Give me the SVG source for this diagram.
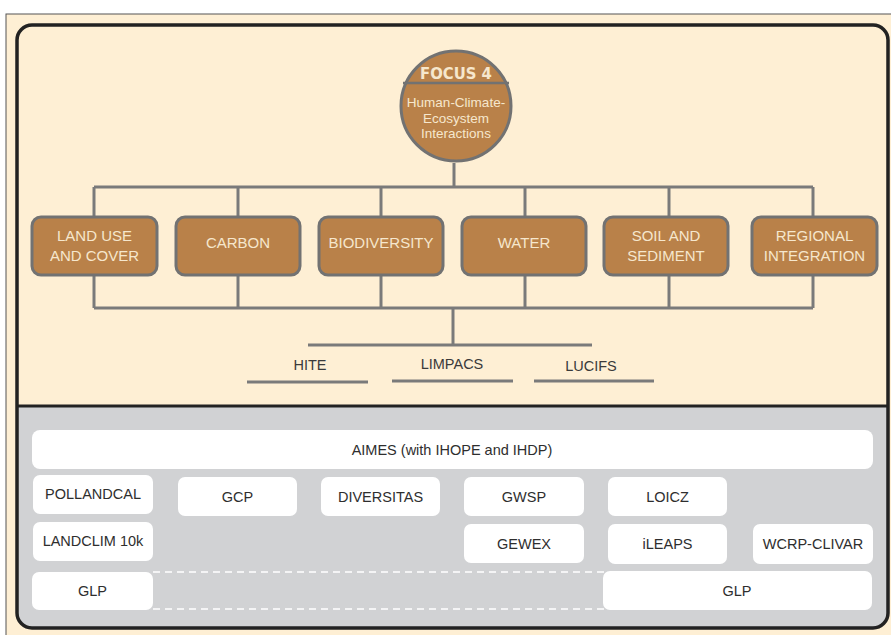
<svg xmlns="http://www.w3.org/2000/svg" width="891" height="635" viewBox="0 0 891 635">
<style>
.box{fill:#B98149;stroke:#727272;stroke-width:3}
.bt{font-family:"Liberation Sans",Arial,sans-serif;font-size:15px;fill:#F6E7CD;text-anchor:middle}
.wb{fill:#FFFFFF}
.wt{font-family:"Liberation Sans",Arial,sans-serif;font-size:14.5px;fill:#2E2E2E;text-anchor:middle}
.ln{stroke:#7A7A7A;stroke-width:3;fill:none}
.lt{font-family:"Liberation Sans",Arial,sans-serif;font-size:14.5px;fill:#3A3A3A;text-anchor:middle}
</style>
<rect x="0" y="0" width="891" height="635" fill="#FFFFFF"/>
<rect x="6" y="14" width="890" height="630" fill="#FEEFD4" stroke="#555" stroke-width="1"/>
<path d="M17,406 H888 V613 Q888,628 873,628 H32 Q17,628 17,613 Z" fill="#D1D2D4"/>
<rect x="17" y="25" width="871" height="603" rx="15" fill="none" stroke="#222" stroke-width="3.5"/>
<line x1="17" y1="406" x2="888" y2="406" stroke="#222" stroke-width="3"/>
<g id="connectors">
<line class="ln" x1="454" y1="163" x2="454" y2="187"/>
<line class="ln" x1="94" y1="187" x2="813" y2="187"/>
<line class="ln" x1="94" y1="187" x2="94" y2="217"/>
<line class="ln" x1="238" y1="187" x2="238" y2="217"/>
<line class="ln" x1="381" y1="187" x2="381" y2="217"/>
<line class="ln" x1="525" y1="187" x2="525" y2="217"/>
<line class="ln" x1="669" y1="187" x2="669" y2="217"/>
<line class="ln" x1="813" y1="187" x2="813" y2="217"/>
<line class="ln" x1="94" y1="275" x2="94" y2="308"/>
<line class="ln" x1="238" y1="275" x2="238" y2="308"/>
<line class="ln" x1="381" y1="275" x2="381" y2="308"/>
<line class="ln" x1="525" y1="275" x2="525" y2="308"/>
<line class="ln" x1="669" y1="275" x2="669" y2="308"/>
<line class="ln" x1="813" y1="275" x2="813" y2="308"/>
<line class="ln" x1="94" y1="308" x2="813" y2="308"/>
<line class="ln" x1="453" y1="308" x2="453" y2="345"/>
<line class="ln" x1="308" y1="345" x2="592" y2="345"/>
<line class="ln" x1="247" y1="382" x2="368" y2="382"/>
<line class="ln" x1="392" y1="381" x2="513" y2="381"/>
<line class="ln" x1="534" y1="381" x2="654" y2="381"/>
</g>
<g id="focus4">
<circle cx="456" cy="106" r="55" fill="#B98149" stroke="#727272" stroke-width="3"/>
<line x1="403" y1="83" x2="509" y2="83" stroke="#727272" stroke-width="2.5"/>
<text x="456" y="79" font-family="'DejaVu Sans Condensed','Liberation Sans Narrow',sans-serif" font-weight="bold" font-size="16.5" fill="#F6E7CD" text-anchor="middle">FOCUS 4</text>
<text font-family="'Liberation Sans',Arial,sans-serif" font-size="13.5" fill="#F6E7CD" text-anchor="middle"><tspan x="456" y="107">Human-Climate-</tspan><tspan x="456" y="123">Ecosystem</tspan><tspan x="456" y="138">Interactions</tspan></text>
</g>
<g id="landuse"><rect class="box" x="32" y="217" width="125" height="58" rx="9"/><text class="bt"><tspan x="94.5" y="241">LAND USE</tspan><tspan x="94.5" y="261">AND COVER</tspan></text></g>
<g id="carbon"><rect class="box" x="176" y="217" width="124" height="58" rx="9"/><text class="bt" x="238" y="248">CARBON</text></g>
<g id="biodiversity"><rect class="box" x="319" y="217" width="124" height="58" rx="9"/><text class="bt" x="381" y="248">BIODIVERSITY</text></g>
<g id="water"><rect class="box" x="462" y="217" width="124" height="58" rx="9"/><text class="bt" x="524" y="248">WATER</text></g>
<g id="soil"><rect class="box" x="604" y="217" width="124" height="58" rx="9"/><text class="bt"><tspan x="666" y="241">SOIL AND</tspan><tspan x="666" y="261">SEDIMENT</tspan></text></g>
<g id="regional"><rect class="box" x="752" y="217" width="125" height="58" rx="9"/><text class="bt"><tspan x="814.5" y="241">REGIONAL</tspan><tspan x="814.5" y="261">INTEGRATION</tspan></text></g>
<g id="hite"><text class="lt" x="310" y="370">HITE</text></g>
<g id="limpacs"><text class="lt" x="452" y="369">LIMPACS</text></g>
<g id="lucifs"><text class="lt" x="591" y="371">LUCIFS</text></g>
<g id="aimes"><rect class="wb" x="32" y="430" width="841" height="39" rx="8"/><text class="wt" x="452" y="455">AIMES (with IHOPE and IHDP)</text></g>
<g id="pollandcal"><rect class="wb" x="33" y="475" width="120" height="39" rx="7"/><text class="wt" x="93" y="499">POLLANDCAL</text></g>
<g id="gcp"><rect class="wb" x="178" y="477" width="119" height="39" rx="7"/><text class="wt" x="237.5" y="502">GCP</text></g>
<g id="diversitas"><rect class="wb" x="321" y="477" width="119" height="39" rx="7"/><text class="wt" x="380.5" y="502">DIVERSITAS</text></g>
<g id="gwsp"><rect class="wb" x="464" y="477" width="120" height="39" rx="7"/><text class="wt" x="524" y="502">GWSP</text></g>
<g id="loicz"><rect class="wb" x="608" y="477" width="119" height="39" rx="7"/><text class="wt" x="667.5" y="502">LOICZ</text></g>
<g id="landclim"><rect class="wb" x="33" y="522" width="120" height="39" rx="7"/><text class="wt" x="93" y="546">LANDCLIM 10k</text></g>
<g id="gewex"><rect class="wb" x="464" y="524" width="120" height="39" rx="7"/><text class="wt" x="524" y="549">GEWEX</text></g>
<g id="ileaps"><rect class="wb" x="608" y="524" width="119" height="40" rx="7"/><text class="wt" x="667.5" y="549">iLEAPS</text></g>
<g id="wcrp"><rect class="wb" x="753" y="524" width="120" height="40" rx="7"/><text class="wt" x="813" y="549">WCRP-CLIVAR</text></g>
<g id="glp-span"><line x1="153" y1="572" x2="604" y2="572" stroke="#FFFFFF" stroke-width="1.5" stroke-dasharray="7,5"/><line x1="153" y1="609" x2="604" y2="609" stroke="#FFFFFF" stroke-width="1.5" stroke-dasharray="7,5"/></g>
<g id="glp-left"><rect class="wb" x="32" y="572" width="121" height="38" rx="7"/><text class="wt" x="92.5" y="596">GLP</text></g>
<g id="glp-right"><rect class="wb" x="603" y="571" width="269" height="39" rx="7"/><text class="wt" x="737" y="596">GLP</text></g>
</svg>
